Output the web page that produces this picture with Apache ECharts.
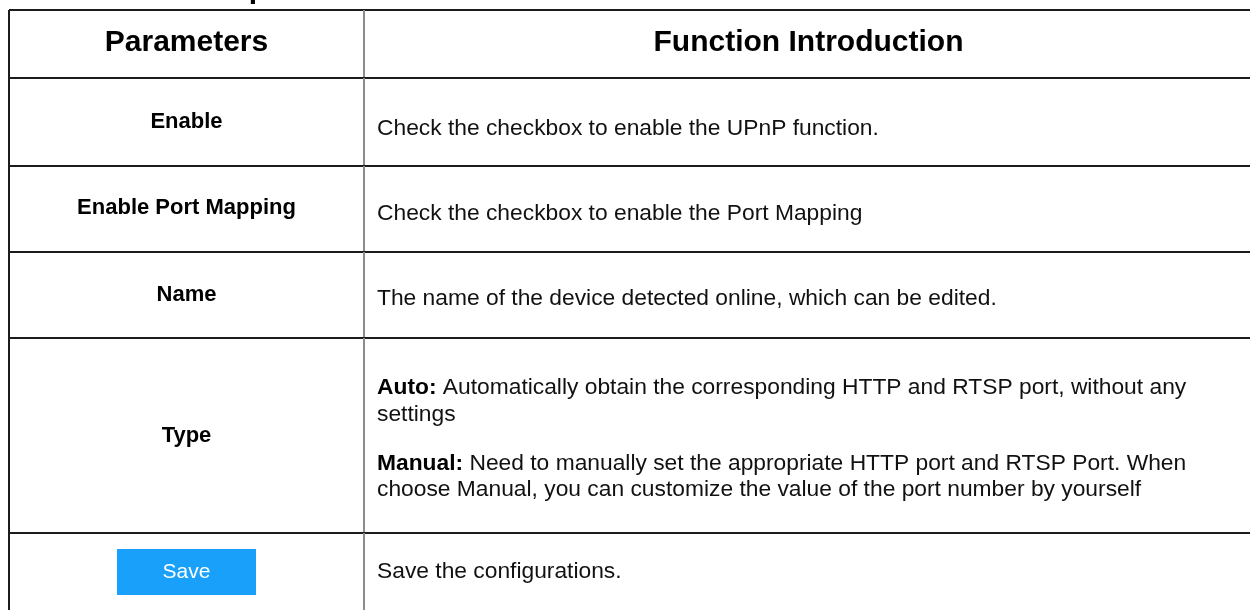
<!DOCTYPE html>
<html>
<head>
<meta charset="utf-8">
<script src="https://cdn.jsdelivr.net/npm/echarts@6/dist/echarts.min.js"></script>
<style>html,body{margin:0;padding:0;background:#fff}#c{width:1250px;height:610px}</style>
</head>
<body>
<div id="c"></div>
<script>
// ---- content (data) ----
const headingText = 'UPnP Setup';
const headers = ['Parameters', 'Function Introduction'];
const paramNames = ['Enable', 'Enable Port Mapping', 'Name', 'Type', 'Save'];
const paramIsButton = [false, false, false, false, true];
const descEnable = [['', 'Check the checkbox to enable the UPnP function.']];
const descPortMapping = [['', 'Check the checkbox to enable the Port Mapping']];
const descName = [['', 'The name of the device detected online, which can be edited.']];
const descType = [
  ['Auto:', ' Automatically obtain the corresponding HTTP and RTSP port, without any'],
  ['', 'settings'],
  ['Manual:', ' Need to manually set the appropriate HTTP port and RTSP Port. When'],
  ['', 'choose Manual, you can customize the value of the port number by yourself']
];
const descSave = [['', 'Save the configurations.']];
const descriptions = [descEnable, descPortMapping, descName, descType, descSave];

// ---- layout (positions in axis units, kept apart from the data) ----
const rowEdges = [10, 78, 166, 252, 338, 533, 700];
const colEdges = [9, 364, 1253];
const labelY = [43, 122, 208, 295, 436, 572];
const descY = [null, [129], [214], [299], [388, 415, 464, 490], [572]];
const descX = 377;
const button = { w: 139, h: 46 };
const heading = { x: 267, y: -10 };

const FONT = "'Liberation Sans', Arial, Helvetica, sans-serif";
const LINE = '#1c1c1c';
const DIV = '#8c8c8c';
const BODY = 22.8;

const chart = echarts.init(document.getElementById('c'), null, { renderer: 'canvas' });

function renderItem(ctx, api) {
  const i = api.value(0);
  const p = (x, y) => api.coord([x, y]);
  const [x0, y0] = p(colEdges[0], rowEdges[i]);
  const [x1] = p(colEdges[1], 0);
  const [x2, y1] = p(colEdges[2], rowEdges[i + 1]);
  const cx0 = (x0 + x1) / 2;
  const cx1 = (x1 + x2) / 2;
  const children = [
    { type: 'line', shape: { x1: x0, y1: y0, x2: x2, y2: y0 }, style: { stroke: LINE, lineWidth: 2 } },
    { type: 'line', shape: { x1: x0, y1: y0, x2: x0, y2: y1 }, style: { stroke: LINE, lineWidth: 2 } },
    { type: 'line', shape: { x1: x1, y1: y0, x2: x1, y2: y1 }, style: { stroke: DIV, lineWidth: 2 } }
  ];
  if (i === 0) {
    const hy = p(0, labelY[0])[1];
    children.push({ type: 'text', x: cx0, y: hy, style: { text: headers[0], fontFamily: FONT, fontWeight: 'bold', fontSize: 30, fill: '#000', align: 'center', verticalAlign: 'middle' } });
    children.push({ type: 'text', x: cx1, y: hy, style: { text: headers[1], fontFamily: FONT, fontWeight: 'bold', fontSize: 30, fill: '#000', align: 'center', verticalAlign: 'middle' } });
    const hp = p(heading.x, heading.y);
    children.push({ type: 'text', x: hp[0], y: hp[1], style: { text: headingText, fontFamily: FONT, fontWeight: 'bold', fontSize: 30, fill: '#000', align: 'right', verticalAlign: 'middle' } });
  } else {
    const k = i - 1;
    const ly = p(0, labelY[i])[1];
    if (paramIsButton[k]) {
      const tl = p(0, labelY[i] - button.h / 2);
      children.push({ type: 'rect', shape: { x: cx0 - button.w / 2, y: tl[1], width: button.w, height: button.h }, style: { fill: '#19a0fb' } });
      children.push({ type: 'text', x: cx0, y: ly, style: { text: paramNames[k], fontFamily: FONT, fontSize: 21, fill: '#fff', align: 'center', verticalAlign: 'middle' } });
    } else {
      children.push({ type: 'text', x: cx0, y: ly, style: { text: paramNames[k], fontFamily: FONT, fontWeight: 'bold', fontSize: 22, fill: '#000', align: 'center', verticalAlign: 'middle' } });
    }
    const lines = descriptions[k];
    const dx = p(descX, 0)[0];
    lines.forEach((ln, j) => {
      const yy = p(0, descY[i][j])[1];
      const txt = (ln[0] ? '{b|' + ln[0] + '}' : '') + ln[1];
      children.push({
        type: 'text', x: dx, y: yy,
        style: {
          text: txt, fontFamily: FONT, fontSize: BODY, fill: '#111', align: 'left', verticalAlign: 'middle',
          rich: { b: { fontFamily: FONT, fontSize: BODY, fontWeight: 'bold', fill: '#000' } }
        }
      });
    });
  }
  return { type: 'group', children };
}

const rowIndex = [0, 1, 2, 3, 4, 5];

chart.setOption({
  animation: false,
  grid: { left: 0, right: 0, top: 0, bottom: 0 },
  xAxis: { type: 'value', min: 0, max: 1250, show: false },
  yAxis: { type: 'value', min: 0, max: 610, inverse: true, show: false },
  series: [{
    type: 'custom',
    clip: false,
    renderItem,
    data: rowIndex.map(v => [v])
  }]
});
</script>
</body>
</html>
